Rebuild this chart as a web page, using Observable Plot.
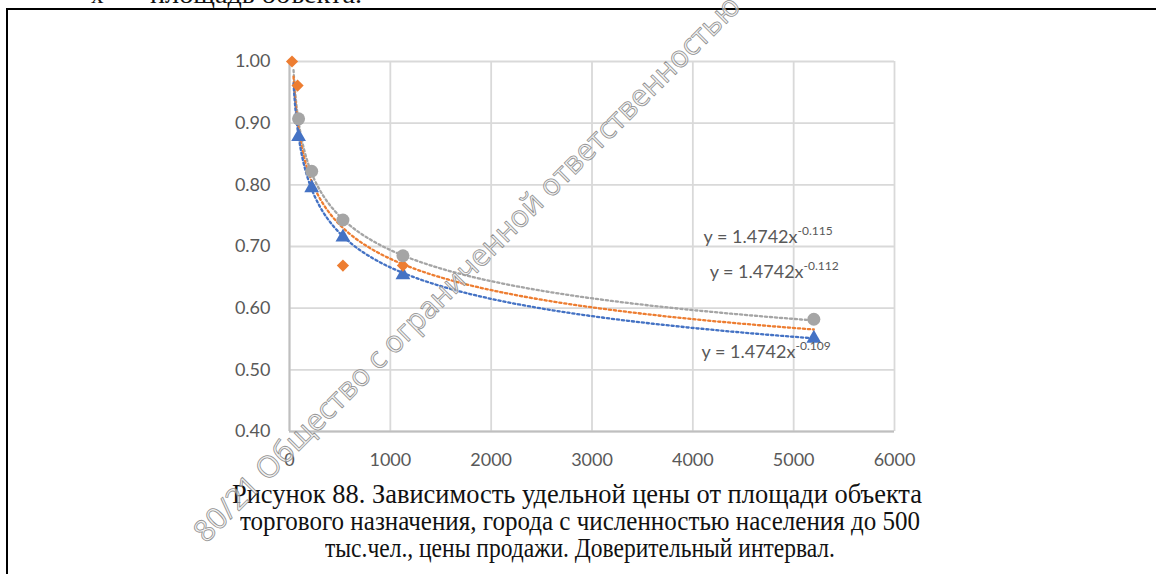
<!DOCTYPE html>
<html>
<head>
<meta charset="utf-8">
<script src="https://cdn.jsdelivr.net/npm/d3@7"></script>
<script src="https://cdn.jsdelivr.net/npm/@observablehq/plot@0.6"></script>
<style>
  #captionBox div { font-family: "Liberation Serif", serif !important; }
</style>
</head>
<body style="margin:0;background:#fff">
<div id="page" style="position:relative;width:1156px;height:574px;overflow:hidden;background:#fff">
  <svg width="1156" height="574" style="position:absolute;left:0;top:0">
    <line x1="6" y1="9" x2="1156" y2="9" stroke="#000" stroke-width="2"/>
    <line x1="7" y1="8" x2="7" y2="574" stroke="#000" stroke-width="2"/>
  </svg>
  <div id="chart" style="position:absolute;left:0;top:0"></div>
  <div id="captionBox" style="position:absolute;left:0;top:0;width:1156px;height:574px"></div>
  <svg width="1156" height="574" id="watermark" style="position:absolute;left:0;top:0"></svg>
</div>
<script>
// ---- data ----
const xTicks = [0, 1000, 2000, 3000, 4000, 5000, 6000];
const yTicks = [0.4, 0.5, 0.6, 0.7, 0.8, 0.9, 1.0];

const blueX = [90, 220, 530, 1125, 5200];
const blueY = [0.878, 0.795, 0.715, 0.654, 0.551];

const orangeX = [25, 80, 530, 1125];
const orangeY = [1.00, 0.961, 0.669, 0.669];

const grayX = [90, 220, 530, 1125, 5200];
const grayY = [0.907, 0.822, 0.743, 0.685, 0.582];

// trendline equations as printed on the chart (y = a * x^b)
const trendNames = ["gray", "orange", "blue"];
const trendA = [1.4742, 1.4742, 1.4742];
const trendB = [-0.109, -0.112, -0.115];

const eqBase = ["y = 1.4742x", "y = 1.4742x", "y = 1.4742x"];
const eqExp = ["-0.115", "-0.112", "-0.109"];

const headerTexts = ["x", "площадь объекта."];
const captionLines = [
  "Рисунок 88. Зависимость удельной цены от площади объекта",
  "торгового назначения, города с численностью населения до 500",
  "тыс.чел., цены продажи. Доверительный интервал."
];
const watermarkText = "80/21 Общество с ограниченной ответственностью";

// ---- build tables ----
const colors = {blue: "#4472C4", orange: "#ED7D31", gray: "#A5A5A5"};
const blue = blueX.map((x, i) => ({x, y: blueY[i]}));
const orange = orangeX.map((x, i) => ({x, y: orangeY[i]}));
const gray = grayX.map((x, i) => ({x, y: grayY[i]}));

const sampleX = d3.range(0, 201).map(i => 40 * Math.pow(5200 / 40, i / 200));
const trends = trendNames.flatMap((name, k) =>
  sampleX.map(x => ({name, x, y: trendA[k] * Math.pow(x, trendB[k])})));

const eqPos = [[5038, 0.7146], [5098, 0.658], [5018, 0.528]];

const plot = Plot.plot({
  width: 1156,
  height: 480,
  marginLeft: 289,
  marginRight: 262,
  marginTop: 61,
  marginBottom: 49,
  x: {domain: [0, 6000], label: null},
  y: {domain: [0.4, 1.0], label: null},
  style: "font-family: Lato, sans-serif; font-size: 18px; color: #595959; background: transparent; overflow: visible;",
  marks: [
    Plot.gridX(xTicks, {stroke: "#d9d9d9", strokeOpacity: 1, strokeWidth: 1.8}),
    Plot.gridY(yTicks, {stroke: "#d9d9d9", strokeOpacity: 1, strokeWidth: 1.8}),
    Plot.ruleX([0], {stroke: "#bfbfbf", strokeWidth: 2}),
    Plot.ruleY([0.4], {stroke: "#bfbfbf", strokeWidth: 2}),
    Plot.axisX(xTicks, {tickSize: 0, tickPadding: 22, tickFormat: d => String(d), fill: "#595959", fontSize: 18}),
    Plot.axisY(yTicks, {tickSize: 0, tickPadding: 19, tickFormat: d3.format(".2f"), fill: "#595959", fontSize: 18}),
    Plot.line(trends, {x: "x", y: "y", z: "name", stroke: d => colors[d.name], strokeWidth: 2.3,
      strokeDasharray: "2.2 2.8"}),
    Plot.dot(blue, {x: "x", y: "y", symbol: "triangle", r: 5.5, fill: colors.blue}),
    Plot.dot(orange, {x: "x", y: "y", symbol: "diamond2", r: 5.5, fill: colors.orange}),
    Plot.dot(gray, {x: "x", y: "y", symbol: "circle", r: 6.5, fill: colors.gray}),
    ...eqBase.map((t, i) => Plot.text([t], {x: eqPos[i][0], y: eqPos[i][1], text: d => d, textAnchor: "end",
      fill: "#595959", fontSize: 18})),
    ...eqExp.map((t, i) => Plot.text([t], {x: eqPos[i][0], y: eqPos[i][1], text: d => d, textAnchor: "start",
      dy: -6, fill: "#595959", fontSize: 12}))
  ]
});
document.getElementById("chart").appendChild(plot);

// caption and header text (HTML, serif), fitted to the reference line widths
const box = document.getElementById("captionBox");
function serifLine(text, left, right, baseline, size) {
  const d = document.createElement("div");
  d.style.setProperty("font-family", "'Liberation Serif', serif", "important");
  d.style.fontSize = size + "px";
  d.style.lineHeight = size + "px";
  d.style.position = "absolute";
  d.style.whiteSpace = "nowrap";
  d.style.color = "#111";
  d.style.transformOrigin = "0 0";
  d.textContent = text;
  box.appendChild(d);
  const w = d.getBoundingClientRect().width;
  d.style.left = left + "px";
  d.style.top = (baseline - 0.8375 * size) + "px";
  if (right != null && w > 0) d.style.transform = "scaleX(" + ((right - left) / w) + ")";
}
serifLine(headerTexts[0], 91, null, 3, 25);
serifLine(headerTexts[1], 150, 362, 3, 25);
const capBase = [503, 530, 557];
const capSpan = [[232, 922], [240, 920], [325, 835]];
captionLines.forEach((t, i) => serifLine(t, capSpan[i][0], capSpan[i][1], capBase[i], 26.5));

// watermark
d3.select("#watermark").append("text")
  .attr("transform", "translate(742,8) rotate(-45)")
  .attr("text-anchor", "end")
  .style("font-family", "Open Sans")
  .style("font-size", "30px")
  .attr("fill", "#ececec").attr("fill-opacity", 0.6).attr("stroke", "#8f8f8f").attr("stroke-width", 0.8)
  .text(watermarkText);
</script>
</body>
</html>
